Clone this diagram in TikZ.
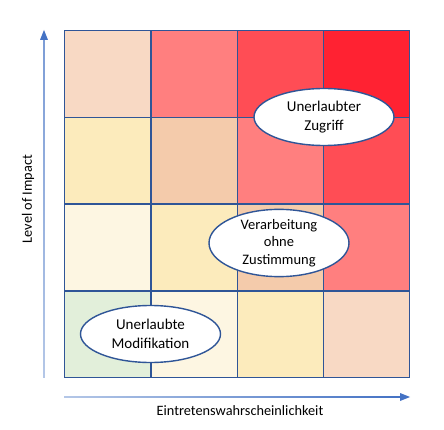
\documentclass[tikz,border=0pt]{standalone}
\usepackage{fontspec}
\setmainfont{Carlito}
\usetikzlibrary{arrows.meta,shapes.geometric}
\definecolor{gridblue}{HTML}{2F5597}
\definecolor{axisblue}{HTML}{4472C4}
\definecolor{axislight}{HTML}{B4C7E7}
\definecolor{cPeach}{HTML}{F8D9C4}
\definecolor{cRedA}{HTML}{FF7F7F}
\definecolor{cRedB}{HTML}{FF4D55}
\definecolor{cRedC}{HTML}{FF2232}
\definecolor{cYel}{HTML}{FCEBBC}
\definecolor{cTan}{HTML}{F4CBAB}
\definecolor{cCream}{HTML}{FDF6E2}
\definecolor{cGreen}{HTML}{E2EFDA}
\tikzset{
  cell/.style={draw=gridblue, line width=1.4pt, minimum width=86.25pt, minimum height=86.75pt, inner sep=0pt, anchor=north west},
  risk/.style={ellipse, draw=gridblue, line width=1.4pt, fill=white, minimum width=140pt, minimum height=57pt, inner sep=0pt, align=center, font=\fontsize{15}{19}\selectfont},
  axislabel/.style={font=\fontsize{14.3}{16}\selectfont}
}
\begin{document}
\begin{tikzpicture}[x=1pt,y=-1pt]
\useasboundingbox (0,0) rectangle (444,430);
% cells: row 1 top
\node[cell, fill=cPeach] (c11) at (64,30) {};
\node[cell, fill=cRedA]  (c12) at (150.25,30) {};
\node[cell, fill=cRedB]  (c13) at (236.5,30) {};
\node[cell, fill=cRedC]  (c14) at (322.75,30) {};
\node[cell, fill=cYel]   (c21) at (64,116.75) {};
\node[cell, fill=cTan]   (c22) at (150.25,116.75) {};
\node[cell, fill=cRedA]  (c23) at (236.5,116.75) {};
\node[cell, fill=cRedB]  (c24) at (322.75,116.75) {};
\node[cell, fill=cCream] (c31) at (64,203.5) {};
\node[cell, fill=cYel]   (c32) at (150.25,203.5) {};
\node[cell, fill=cTan]   (c33) at (236.5,203.5) {};
\node[cell, fill=cRedA]  (c34) at (322.75,203.5) {};
\node[cell, fill=cGreen] (c41) at (64,290.25) {};
\node[cell, fill=cCream] (c42) at (150.25,290.25) {};
\node[cell, fill=cYel]   (c43) at (236.5,290.25) {};
\node[cell, fill=cPeach] (c44) at (322.75,290.25) {};
% ellipses
\node[risk] (zug) at (324,117) {Unerlaubter\\Zugriff};
\node[risk, minimum height=56pt, font=\fontsize{14.5}{17.5}\selectfont] (ver) at (279,243) {Verarbeitung\\ohne\\Zustimmung};
\node[risk] (mod) at (150.5,334) {Unerlaubte\\Modifikation};
% axes
\coordinate (yb) at (44,377);
\coordinate (yt) at (44,38);
\coordinate (xl) at (64,397);
\coordinate (xr) at (401,397);
\shade[bottom color=axislight, top color=axisblue!70] (43.2,377) rectangle (44.8,38);
\shade[left color=axislight, right color=axisblue] (64,396.2) rectangle (401,397.8);
\fill[axisblue] (40,40) -- (44,30) -- (48,40) -- cycle;
\fill[axisblue] (400,393) -- (410,397) -- (400,401) -- cycle;
\node[axislabel, rotate=90] (ylab) at (28,199) {Level of Impact};
\node[axislabel] (xlab) at (240,411) {Eintretenswahrscheinlichkeit};
\end{tikzpicture}
\end{document}
